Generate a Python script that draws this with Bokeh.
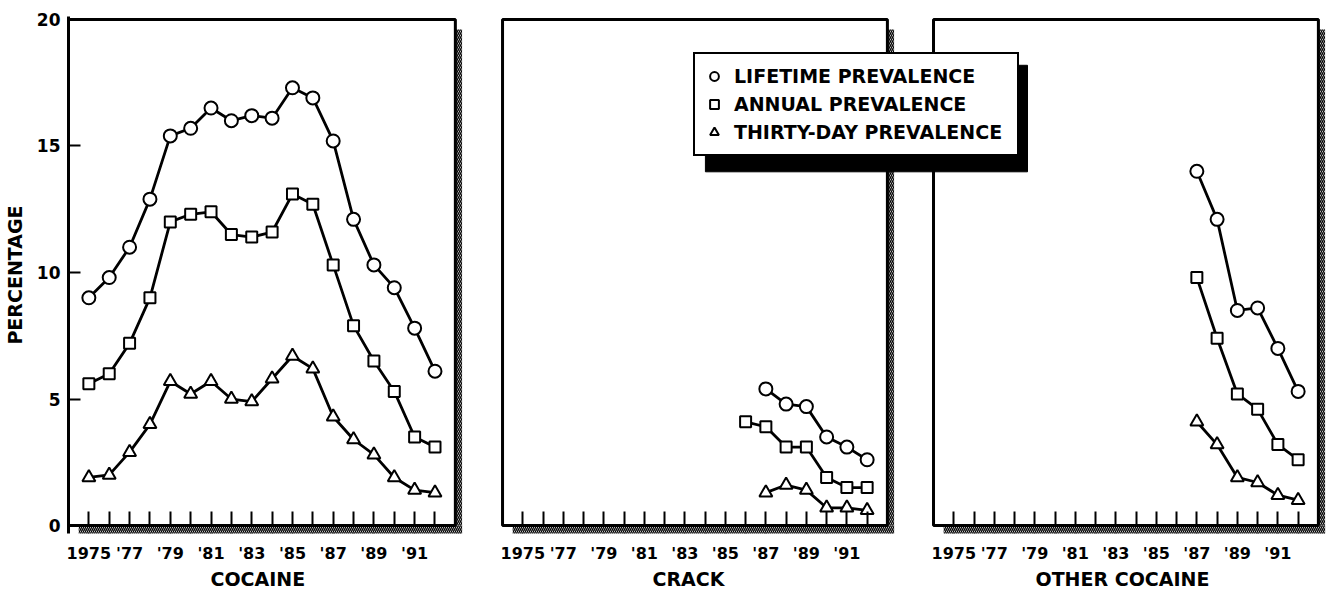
from bokeh.plotting import figure
from bokeh.models import Range1d, FixedTicker, Title, Legend, LegendItem
from bokeh.layouts import row
from bokeh.embed import file_html
from bokeh.resources import INLINE

# ---------------- data ----------------
years = list(range(1975, 1993))
tick_labels = {1975: "1975", 1977: "'77", 1979: "'79", 1981: "'81", 1983: "'83",
               1985: "'85", 1987: "'87", 1989: "'89", 1991: "'91"}
y_ticks = [0, 5, 10, 15, 20]

cocaine_years = list(range(1975, 1993))
cocaine_lifetime = [9.0, 9.8, 11.0, 12.9, 15.4, 15.7, 16.5, 16.0, 16.2, 16.1, 17.3, 16.9, 15.2, 12.1, 10.3, 9.4, 7.8, 6.1]
cocaine_annual = [5.6, 6.0, 7.2, 9.0, 12.0, 12.3, 12.4, 11.5, 11.4, 11.6, 13.1, 12.7, 10.3, 7.9, 6.5, 5.3, 3.5, 3.1]
cocaine_30day = [1.9, 2.0, 2.9, 4.0, 5.7, 5.2, 5.7, 5.0, 4.9, 5.8, 6.7, 6.2, 4.3, 3.4, 2.8, 1.9, 1.4, 1.3]

crack_years = [1987, 1988, 1989, 1990, 1991, 1992]
crack_annual_years = [1986, 1987, 1988, 1989, 1990, 1991, 1992]
crack_lifetime = [5.4, 4.8, 4.7, 3.5, 3.1, 2.6]
crack_annual = [4.1, 3.9, 3.1, 3.1, 1.9, 1.5, 1.5]
crack_30day = [1.3, 1.6, 1.4, 0.7, 0.7, 0.6]

other_years = [1987, 1988, 1989, 1990, 1991, 1992]
other_lifetime = [14.0, 12.1, 8.5, 8.6, 7.0, 5.3]
other_annual = [9.8, 7.4, 5.2, 4.6, 3.2, 2.6]
other_30day = [4.1, 3.2, 1.9, 1.7, 1.2, 1.0]

series_names = ["LIFETIME PREVALENCE", "ANNUAL PREVALENCE", "THIRTY-DAY PREVALENCE"]
markers = ["circle", "square", "triangle"]
marker_sizes = [13, 11, 13]

# ---------------- styling / geometry ----------------
FONT = "DejaVu Sans"
FX0, FX1, FY0, FY1 = 1974, 1993, 0, 20
Y_RANGE = (-0.315, 20.118)
SH_X, SH_Y = 0.33, -0.315   # shadow extent beyond frame
FIG_H = 589


def make_panel(width, x_start, x_end, min_left, min_right, show_y):
    p = figure(width=width, height=FIG_H, x_range=Range1d(x_start, x_end), y_range=Range1d(*Y_RANGE),
               output_backend="svg", toolbar_location=None,
               min_border_left=min_left, min_border_right=min_right,
               min_border_top=16, min_border_bottom=FIG_H - 16 - 519)
    p.grid.visible = False
    p.outline_line_color = None
    p.background_fill_color = None
    p.border_fill_color = None

    # hatched drop shadow (right and bottom)
    p.quad(left=[FX1], right=[FX1 + SH_X], bottom=[SH_Y], top=[19.6],
           fill_color=None, line_color=None, hatch_pattern="\\", hatch_color="black",
           hatch_scale=4, hatch_weight=1.4)
    p.quad(left=[FX0 + 0.5], right=[FX1 + SH_X], bottom=[SH_Y], top=[FY0],
           fill_color="white", line_color=None, hatch_pattern="\\", hatch_color="black",
           hatch_scale=4, hatch_weight=1.4, level="overlay")
    # frame
    p.quad(left=[FX0], right=[FX1], bottom=[FY0], top=[FY1], fill_color=None,
           line_color="black", line_width=3, level="overlay")

    xa = p.xaxis[0]
    xa.ticker = FixedTicker(ticks=years)
    xa.major_label_overrides = {y: tick_labels.get(y, "") for y in years}
    xa.major_tick_in = 22
    xa.major_tick_out = 0
    xa.major_tick_line_width = 2
    xa.major_tick_line_color = "black"
    xa.minor_tick_line_color = None
    xa.axis_line_color = None
    xa.major_label_text_font = FONT
    xa.major_label_text_font_size = "16px"
    xa.major_label_text_font_style = "bold"
    xa.major_label_text_color = "black"
    xa.major_label_standoff = 10

    ya = p.yaxis[0]
    if show_y:
        ya.ticker = FixedTicker(ticks=y_ticks)
        ya.major_tick_in = 12
        ya.major_tick_out = 0
        ya.major_tick_line_width = 2
        ya.major_tick_line_color = "black"
        ya.minor_tick_line_color = None
        ya.axis_line_color = "black"
        ya.axis_line_width = 3
        ya.major_label_text_font = FONT
        ya.major_label_text_font_size = "17px"
        ya.major_label_text_font_style = "bold"
        ya.major_label_text_color = "black"
        ya.major_label_standoff = 8
        ya.axis_label = "PERCENTAGE"
        ya.axis_label_standoff = 8
        ya.axis_label_text_font = FONT
        ya.axis_label_text_font_size = "19px"
        ya.axis_label_text_font_style = "bold"
        ya.axis_label_text_color = "black"
    else:
        ya.visible = False
    return p


def draw_series(p, xs_list, ys_list):
    rs = []
    for xs, ys, m, s in zip(xs_list, ys_list, markers, marker_sizes):
        p.line(xs, ys, line_color="black", line_width=2.8)
        rs.append(p.scatter(xs, ys, marker=m, size=s, fill_color="white", line_color="black", line_width=2))
    return rs


def axis_title(p, text, offset):
    p.add_layout(Title(text=text, align="left", offset=offset, standoff=0,
                       text_font=FONT, text_font_size="19px", text_font_style="bold",
                       text_color="black"), "below")


# Panel 1: cocaine
p1 = make_panel(480, 1974.0, 1993.4, 68, 17, True)
draw_series(p1, [cocaine_years] * 3, [cocaine_lifetime, cocaine_annual, cocaine_30day])
axis_title(p1, "COCAINE", 142)

# Panel 2: crack
p2 = make_panel(420, 1973.85, 1993.4, 19, 5, False)
draw_series(p2, [crack_years, crack_annual_years, crack_years], [crack_lifetime, crack_annual, crack_30day])
axis_title(p2, "CRACK", 153)

# Panel 3: other cocaine (frame extended to the left so the legend can overlap panel 2)
p3 = make_panel(648, 1961.51, 1993.4, 0, 2, False)
p3.margin = (0, 0, 0, -220)
r3 = draw_series(p3, [other_years] * 3, [other_lifetime, other_annual, other_30day])
axis_title(p3, "OTHER COCAINE", 355)

# legend drop shadow
p3.quad(left=[1962.74], right=[1978.64], bottom=[13.98], top=[18.19],
        fill_color="black", line_color="black")

legend = Legend(items=[LegendItem(label=n, renderers=[r]) for n, r in zip(series_names, r3)],
                location=(13, 377), margin=0, padding=8, spacing=0,
                label_height=28, glyph_height=28, glyph_width=22, label_standoff=9, label_width=275,
                label_text_font=FONT, label_text_font_size="19px", label_text_font_style="bold",
                label_text_color="black",
                border_line_color="black", border_line_width=2, border_line_alpha=1.0,
                background_fill_color="white", background_fill_alpha=1.0)
p3.add_layout(legend, "center")

layout = row(p1, p2, p3)
open("out.html", "w").write(file_html(layout, INLINE))
